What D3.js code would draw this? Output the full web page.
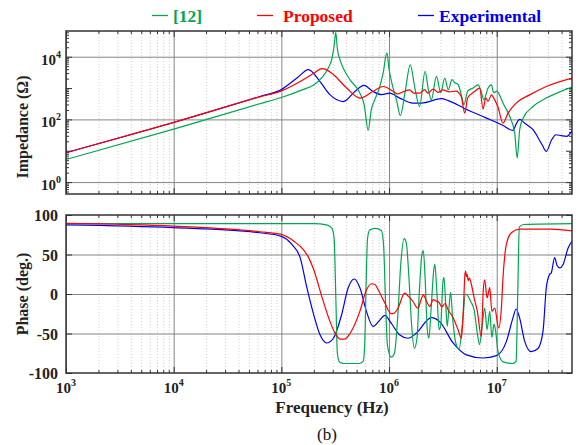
<!DOCTYPE html>
<html>
<head>
<meta charset="utf-8">
<script src="https://cdn.jsdelivr.net/npm/d3@7"></script>
<style>
  body { margin: 0; background: #fff; }
  text { font-family: "Liberation Serif", "Times New Roman", serif; font-weight: bold; }
</style>
</head>
<body>
<svg id="chart"></svg>
<script>
const width = 582;
const height = 445;

// tick values
const freqDecades = [3, 4, 5, 6, 7];
const impDecades = [0, 2, 4];
const phaseTicks = [-100, -50, 0, 50, 100];

const seriesNames = ["[12]", "Proposed", "Experimental"];
const seriesColors = ["#00a650", "#ff0000", "#0000f0"];

// impedance: [log10 f (Hz), log10 |Z| (ohm)]
const zRef12 = [[3,0.72],[4,1.69],[4.8,2.5],[5,2.7],[5.2,2.95],[5.3,3.1],[5.38,3.35],[5.43,3.6],[5.47,3.95],
  [5.49,4.35],[5.505,4.78],[5.52,4.25],[5.545,3.9],[5.58,3.6],[5.637,3.27],[5.729,2.84],[5.77,2.45],[5.806,1.65],
  [5.835,2.3],[5.868,2.63],[5.91,3.0],[5.945,3.48],[5.98,4.12],[6.0,3.6],[6.03,3.1],[6.07,2.6],[6.105,2.12],
  [6.15,2.9],[6.197,3.74],[6.24,3.0],[6.283,2.41],[6.335,3.53],[6.365,2.95],[6.393,2.63],[6.44,3.37],[6.48,2.85],
  [6.517,3.32],[6.55,2.95],[6.585,3.27],[6.61,3.17],[6.64,3.12],[6.67,2.8],[6.696,2.47],[6.73,2.9],[6.78,3.0],
  [6.826,3.1],[6.855,2.9],[6.879,2.63],[6.92,3.0],[6.95,3.1],[6.972,2.85],[7.0,2.9],[7.03,2.75],[7.058,2.52],
  [7.12,2.1],[7.167,1.56],[7.19,0.77],[7.213,1.67],[7.245,2.04],[7.337,2.41],[7.46,2.68],[7.6,2.9],[7.7,3.03]];

const zProposed = [[3,0.935],[4,1.905],[4.8,2.72],[5,2.91],[5.175,3.21],[5.3,3.47],[5.375,3.62],[5.42,3.58],
  [5.483,3.43],[5.606,3.0],[5.73,2.68],[5.85,2.89],[5.945,3.05],[6.04,2.89],[6.08,2.81],[6.13,2.88],[6.19,2.94],
  [6.23,2.84],[6.285,2.84],[6.33,2.95],[6.36,2.84],[6.41,2.97],[6.455,2.86],[6.5,2.94],[6.56,2.88],[6.62,2.9],
  [6.67,2.73],[6.703,2.2],[6.73,2.68],[6.795,2.89],[6.842,3.0],[6.873,2.33],[6.898,2.68],[6.92,2.58],[6.95,2.78],
  [6.98,2.63],[7.01,2.41],[7.058,1.88],[7.105,2.2],[7.18,2.52],[7.31,2.79],[7.46,3.05],[7.7,3.32]];

const zExperimental = [[3,0.94],[4,1.9],[4.8,2.73],[5,2.95],[5.145,3.32],[5.252,3.585],[5.345,3.27],[5.45,2.79],
  [5.575,2.57],[5.683,2.89],[5.766,3.085],[5.852,2.89],[5.93,2.79],[6.006,2.84],[6.1,2.68],[6.22,2.52],[6.3,2.52],
  [6.487,2.66],[6.55,2.6],[6.7,2.35],[6.9,2.05],[7.05,1.82],[7.151,1.65],[7.18,1.85],[7.213,2.0],[7.26,1.88],
  [7.337,1.67],[7.42,1.2],[7.46,0.98],[7.51,1.35],[7.55,1.51],[7.6,1.48],[7.65,1.46],[7.7,1.64]];

// phase: [log10 f (Hz), degrees]
const pRef12 = [[3,89],[5.3,89],[5.42,87.5],[5.47,83],[5.49,70],[5.505,0],[5.52,-75],[5.54,-86],[5.58,-88],
  [5.72,-88],[5.76,-85],[5.775,-60],[5.785,0],[5.8,70],[5.82,81],[5.87,83],[5.93,80],[5.95,60],[5.965,0],
  [5.985,-65],[6.02,-80],[6.05,-75],[6.08,-30],[6.11,40],[6.14,70],[6.16,65],[6.185,20],[6.21,-40],[6.235,-69],
  [6.26,-55],[6.28,0],[6.305,50],[6.318,55],[6.335,20],[6.355,-45],[6.37,-56],[6.39,-20],[6.415,30],[6.425,38],
  [6.445,0],[6.465,-45],[6.48,-40],[6.5,15],[6.51,21],[6.525,-10],[6.54,-41],[6.555,-20],[6.572,2],[6.59,-30],
  [6.62,-62],[6.65,-70],[6.68,-40],[6.71,0],[6.73,-2],[6.76,-10],[6.79,-20],[6.82,-50],[6.84,-64],[6.865,-40],
  [6.888,-18],[6.91,-45],[6.935,-22],[6.955,-55],[6.975,-38],[6.99,-47],[7.012,-73],[7.06,-86],[7.15,-88],
  [7.18,-85],[7.195,0],[7.21,85],[7.25,88],[7.7,89]];

const pProposed = [[3,89.5],[4,86],[4.8,78.8],[5,75.4],[5.114,67],[5.206,56],[5.25,47],[5.3,31],[5.375,-3],
  [5.452,-35],[5.5,-50],[5.545,-57],[5.59,-57],[5.637,-50],[5.729,-22],[5.79,5],[5.837,13],[5.87,12],[5.9,5],
  [5.96,-11],[6.02,-25],[6.05,-24],[6.083,-18],[6.145,1],[6.18,-3],[6.22,-9],[6.268,-18],[6.3,-6],[6.318,-1],
  [6.35,-10],[6.378,-16],[6.41,-7],[6.44,-9],[6.46,-10],[6.49,-16],[6.52,-12],[6.548,-20],[6.595,-30],[6.64,-45],
  [6.672,-56],[6.69,-20],[6.705,25],[6.712,29],[6.718,22],[6.725,25],[6.735,17],[6.745,20],[6.765,12],[6.79,-5],
  [6.82,-22],[6.857,-54],[6.875,5],[6.888,18],[6.91,-5],[6.935,8],[6.955,-22],[6.981,-18],[7.018,-43],[7.043,-18],
  [7.058,20],[7.09,63],[7.136,77.5],[7.213,82],[7.5,82],[7.7,80]];

const pExperimental = [[3,87.5],[4,84],[4.8,77.5],[5,73],[5.098,62.7],[5.175,45.8],[5.237,8],[5.3,-26],
  [5.36,-52],[5.42,-62],[5.483,-56],[5.56,-26],[5.62,7.6],[5.677,19],[5.73,7.6],[5.79,-22],[5.852,-41],[5.914,-33],
  [5.96,-27],[6.02,-37],[6.1,-52],[6.175,-56],[6.25,-50],[6.393,-30],[6.47,-35],[6.595,-62],[6.718,-77],
  [6.873,-81],[6.997,-78],[7.09,-60],[7.15,-30.5],[7.18,-19],[7.213,-30.5],[7.26,-60],[7.32,-73],[7.383,-69],
  [7.43,-47],[7.46,7.6],[7.49,24.6],[7.507,27],[7.538,46],[7.56,36],[7.585,33],[7.615,37],[7.662,58],[7.7,67]];

const left = 66, right = 572;
const topPanel = { top: 31, bottom: 194 };
const botPanel = { top: 215, bottom: 373 };

const svg = d3.select("#chart")
    .attr("width", width)
    .attr("height", height);

const x = d3.scaleLog().domain([1e3, 5e7]).range([left, right]);
const yZ = d3.scaleLog().domain([Math.pow(10, -0.38), Math.pow(10, 4.82)]).range([topPanel.bottom, topPanel.top]);
const yP = d3.scaleLinear().domain([-100, 100]).range([botPanel.bottom, botPanel.top]);

const xMajor = freqDecades.map(d => Math.pow(10, d));
const xMinor = [];
freqDecades.forEach(d => {
    for (let m = 2; m <= 9; m++) {
        const v = m * Math.pow(10, d);
        if (v < 5e7) xMinor.push(v);
    }
});
const yZAll = [0, 1, 2, 3, 4].map(d => Math.pow(10, d));
const yZMinor = [];
[-1, 0, 1, 2, 3, 4].forEach(d => {
    for (let m = 2; m <= 9; m++) {
        const v = m * Math.pow(10, d);
        if (v > yZ.domain()[0] && v < yZ.domain()[1]) yZMinor.push(v);
    }
});

function styleAxis(sel, color, dash, w) {
    sel.select(".domain").remove();
    sel.selectAll("line").attr("stroke", color).attr("stroke-width", w).attr("stroke-dasharray", dash);
}

function drawPanel(p, y, yGrid, yMajTicks, yMinTicks, id) {
    const h = p.bottom - p.top;
    const g = svg.append("g");

    // grid
    g.append("g").attr("transform", `translate(0,${p.bottom})`)
        .call(d3.axisBottom(x).tickValues(xMinor).tickSize(-h).tickFormat(""))
        .call(s => styleAxis(s, "#c4c4c4", "1,2", 0.8));
    g.append("g").attr("transform", `translate(0,${p.bottom})`)
        .call(d3.axisBottom(x).tickValues(xMajor).tickSize(-h).tickFormat(""))
        .call(s => styleAxis(s, "#858585", null, 1));
    g.append("g").attr("transform", `translate(${left},0)`)
        .call(d3.axisLeft(y).tickValues(yGrid).tickSize(-(right - left)).tickFormat(""))
        .call(s => styleAxis(s, "#858585", null, 1));

    // inward ticks on all sides
    const tk = [
        [d3.axisBottom(x).tickValues(xMinor), -3, `translate(0,${p.bottom})`],
        [d3.axisBottom(x).tickValues(xMajor), -6, `translate(0,${p.bottom})`],
        [d3.axisTop(x).tickValues(xMinor), -3, `translate(0,${p.top})`],
        [d3.axisTop(x).tickValues(xMajor), -6, `translate(0,${p.top})`],
        [d3.axisLeft(y).tickValues(yMajTicks), -6, `translate(${left},0)`],
        [d3.axisRight(y).tickValues(yMajTicks), -6, `translate(${right},0)`]
    ];
    if (yMinTicks.length) {
        tk.push([d3.axisLeft(y).tickValues(yMinTicks), -3, `translate(${left},0)`]);
        tk.push([d3.axisRight(y).tickValues(yMinTicks), -3, `translate(${right},0)`]);
    }
    tk.forEach(([ax, size, tr]) => {
        g.append("g").attr("transform", tr)
            .call(ax.tickSize(size).tickFormat(""))
            .call(s => styleAxis(s, "#333", null, 1));
    });

    svg.append("clipPath").attr("id", id)
        .append("rect").attr("x", left).attr("y", p.top).attr("width", right - left).attr("height", h);

    return g;
}

const gTop = drawPanel(topPanel, yZ, impDecades.map(d => Math.pow(10, d)), yZAll, yZMinor, "clipTop");
const gBot = drawPanel(botPanel, yP, [-50, 0, 50], phaseTicks, [], "clipBot");

// curves
const lineZ = d3.line().x(d => x(Math.pow(10, d[0]))).y(d => yZ(Math.pow(10, d[1]))).curve(d3.curveMonotoneX);
const lineP = d3.line().x(d => x(Math.pow(10, d[0]))).y(d => yP(d[1])).curve(d3.curveMonotoneX);

const zSeries = [zExperimental, zRef12, zProposed];
const pSeries = [pExperimental, pRef12, pProposed];
const drawOrder = [2, 0, 1];

gTop.append("g").attr("clip-path", "url(#clipTop)")
    .selectAll("path").data(zSeries).enter().append("path")
    .attr("d", lineZ)
    .attr("fill", "none")
    .attr("stroke", (d, i) => seriesColors[drawOrder[i]])
    .attr("stroke-width", 1.2);

gBot.append("g").attr("clip-path", "url(#clipBot)")
    .selectAll("path").data(pSeries).enter().append("path")
    .attr("d", lineP)
    .attr("fill", "none")
    .attr("stroke", (d, i) => seriesColors[drawOrder[i]])
    .attr("stroke-width", 1.2);

// frames
[topPanel, botPanel].forEach(p => {
    svg.append("rect")
        .attr("x", left).attr("y", p.top)
        .attr("width", right - left).attr("height", p.bottom - p.top)
        .attr("fill", "none").attr("stroke", "#333").attr("stroke-width", 1.5);
});

// tick labels
const xLab = svg.append("g").selectAll("text").data(freqDecades).enter().append("text")
    .attr("x", d => x(Math.pow(10, d)))
    .attr("y", 393)
    .attr("text-anchor", "middle")
    .attr("font-size", 15)
    .attr("fill", "#222");
xLab.append("tspan").text("10");
xLab.append("tspan").attr("dy", -7).attr("font-size", 10).text(d => d);

const yZLab = svg.append("g").selectAll("text").data(impDecades).enter().append("text")
    .attr("x", 61)
    .attr("y", d => yZ(Math.pow(10, d)) + 8)
    .attr("text-anchor", "end")
    .attr("font-size", 15)
    .attr("fill", "#222");
yZLab.append("tspan").text("10");
yZLab.append("tspan").attr("dy", -7).attr("font-size", 10).text(d => d);

svg.append("g").selectAll("text").data(phaseTicks).enter().append("text")
    .attr("x", 58)
    .attr("y", d => yP(d) + 6)
    .attr("text-anchor", "end")
    .attr("font-size", 16)
    .attr("fill", "#222")
    .text(d => d);

// axis titles
svg.append("text")
    .attr("transform", "translate(28,127) rotate(-90)")
    .attr("text-anchor", "middle")
    .attr("font-size", 16)
    .attr("fill", "#222")
    .text("Impedance (Ω)");

svg.append("text")
    .attr("transform", "translate(28,294) rotate(-90)")
    .attr("text-anchor", "middle")
    .attr("font-size", 16)
    .attr("fill", "#222")
    .text("Phase (deg.)");

svg.append("text")
    .attr("x", 332).attr("y", 413)
    .attr("text-anchor", "middle")
    .attr("font-size", 17)
    .attr("fill", "#222")
    .text("Frequency (Hz)");

svg.append("text")
    .attr("x", 327).attr("y", 440)
    .attr("text-anchor", "middle")
    .attr("font-size", 17)
    .style("font-weight", "normal")
    .attr("fill", "#111")
    .text("(b)");

// legend
const legendX = [152, 257, 418];
const leg = svg.append("g").selectAll("g").data(seriesNames).enter().append("g")
    .attr("transform", (d, i) => `translate(${legendX[i]},0)`);
leg.append("line")
    .attr("x1", 0).attr("x2", 16).attr("y1", 15.5).attr("y2", 15.5)
    .attr("stroke", (d, i) => seriesColors[i]).attr("stroke-width", 1.3);
leg.append("text")
    .attr("x", (d, i) => i === 1 ? 26 : 21)
    .attr("y", 22)
    .attr("font-size", 17.5)
    .attr("fill", (d, i) => seriesColors[i])
    .text(d => d);
</script>
</body>
</html>
